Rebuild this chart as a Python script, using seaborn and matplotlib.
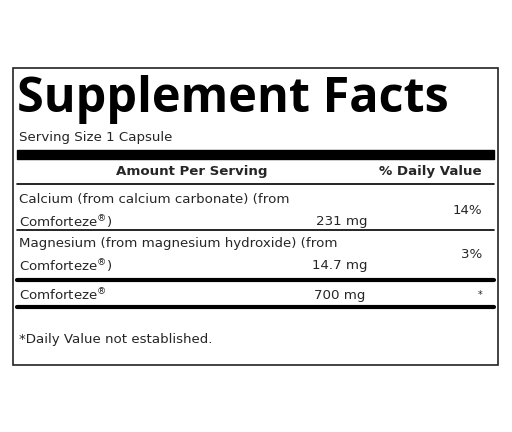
import matplotlib.pyplot as plt
import seaborn as sns
from matplotlib.patches import Rectangle

sns.set_theme(style="white")
plt.rcParams['font.family'] = ['DejaVu Sans']
plt.rcParams['mathtext.fontset'] = 'dejavusans'

title = "Supplement Facts"
serving = "Serving Size 1 Capsule"
reg = r"Comforteze$^{\mathrm{®}}$"
row_lines1 = ["Calcium (from calcium carbonate) (from", "Magnesium (from magnesium hydroxide) (from", reg]
row_lines2 = [reg + ")", reg + ")", ""]
amounts = ["231 mg", "14.7 mg", "700 mg"]
daily = ["14%", "3%", "*"]
footnote = "*Daily Value not established."

fig = plt.figure(figsize=(5.12, 4.32), dpi=100)
ax = fig.add_axes([0, 0, 1, 1])
ax.set_xlim(0, 512)
ax.set_ylim(432, 0)
ax.axis('off')

fs = 9.6
ax.add_patch(Rectangle((13, 68), 485, 297, fill=False, lw=1.2, ec='#222'))
ax.text(17, 99, title, fontsize=35, fontweight='bold', va='center', ha='left', color='black',
        family='Open Sans')
ax.text(19, 137, serving, fontsize=fs, va='center')
ax.fill_between([17, 494], 150, 159, color='black')
ax.text(192, 172, "Amount Per Serving", fontsize=fs, fontweight='bold', va='center', ha='center')
ax.text(482, 172, "% Daily Value", fontsize=fs, fontweight='bold', va='center', ha='right')
ax.plot([17, 494], [184, 184], color='black', lw=1.2)

tops = [200, 244, 295]
seps = [(230, 1.2), (280, 3), (307, 3)]
for i in range(3):
    y = tops[i]
    ax.text(19, y, row_lines1[i], fontsize=fs, va='center')
    if row_lines2[i]:
        ax.text(19, y + 22, row_lines2[i], fontsize=fs, va='center')
        ax.text(367, y + 22, amounts[i], fontsize=fs, va='center', ha='right')
        ax.text(482, y + 10, daily[i], fontsize=fs, va='center', ha='right')
    else:
        ax.text(365, y, amounts[i], fontsize=fs, va='center', ha='right')
        ax.text(482, y, daily[i], fontsize=7, va='center', ha='right')
    ax.plot([17, 494], [seps[i][0]] * 2, color='black', lw=seps[i][1])

ax.text(19, 339, footnote, fontsize=fs, va='center')
fig.savefig("out.png", dpi=100)
